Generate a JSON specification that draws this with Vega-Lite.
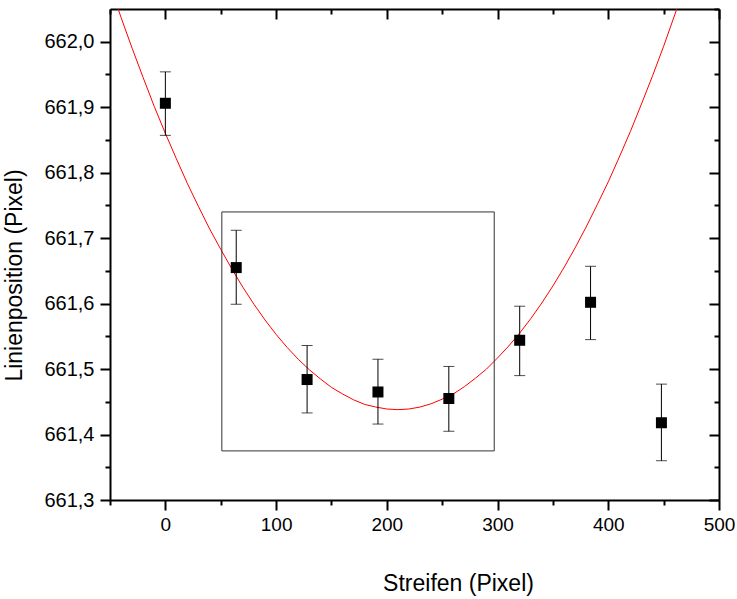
{
  "$schema": "https://vega.github.io/schema/vega-lite/v6.json",
  "width": 609,
  "height": 491,
  "autosize": "none",
  "padding": {"left": 110, "top": 9, "right": 18, "bottom": 99},
  "config": {
    "font": "Liberation Sans",
    "view": {"stroke": null},
    "axis": {"grid": false}
  },
  "datasets": {
    "points": [
      {"x": 0, "y": 661.906, "lo": 661.857, "hi": 661.954},
      {"x": 64, "y": 661.655, "lo": 661.599, "hi": 661.712},
      {"x": 128, "y": 661.484, "lo": 661.433, "hi": 661.536},
      {"x": 192, "y": 661.465, "lo": 661.416, "hi": 661.515},
      {"x": 256, "y": 661.455, "lo": 661.405, "hi": 661.504},
      {"x": 320, "y": 661.544, "lo": 661.490, "hi": 661.596},
      {"x": 384, "y": 661.602, "lo": 661.545, "hi": 661.657},
      {"x": 448, "y": 661.418, "lo": 661.360, "hi": 661.477}
    ],
    "curve": [
      {"x": -50, "y": 662.086}, {"x": -40, "y": 662.037}, {"x": -30, "y": 661.990},
      {"x": -20, "y": 661.945}, {"x": -10, "y": 661.901}, {"x": 0, "y": 661.860},
      {"x": 10, "y": 661.821}, {"x": 20, "y": 661.783}, {"x": 30, "y": 661.748},
      {"x": 40, "y": 661.714}, {"x": 50, "y": 661.683}, {"x": 60, "y": 661.653},
      {"x": 70, "y": 661.625}, {"x": 80, "y": 661.599}, {"x": 90, "y": 661.575},
      {"x": 100, "y": 661.553}, {"x": 110, "y": 661.533}, {"x": 120, "y": 661.515},
      {"x": 130, "y": 661.499}, {"x": 140, "y": 661.485}, {"x": 150, "y": 661.472},
      {"x": 160, "y": 661.462}, {"x": 170, "y": 661.453}, {"x": 180, "y": 661.446},
      {"x": 190, "y": 661.442}, {"x": 200, "y": 661.439}, {"x": 210, "y": 661.438},
      {"x": 220, "y": 661.439}, {"x": 230, "y": 661.442}, {"x": 240, "y": 661.447},
      {"x": 250, "y": 661.454}, {"x": 260, "y": 661.462}, {"x": 270, "y": 661.473},
      {"x": 280, "y": 661.486}, {"x": 290, "y": 661.500}, {"x": 300, "y": 661.517},
      {"x": 310, "y": 661.535}, {"x": 320, "y": 661.555}, {"x": 330, "y": 661.577},
      {"x": 340, "y": 661.601}, {"x": 350, "y": 661.627}, {"x": 360, "y": 661.655},
      {"x": 370, "y": 661.685}, {"x": 380, "y": 661.717}, {"x": 390, "y": 661.751},
      {"x": 400, "y": 661.786}, {"x": 410, "y": 661.824}, {"x": 420, "y": 661.863},
      {"x": 430, "y": 661.905}, {"x": 440, "y": 661.948}, {"x": 450, "y": 661.993},
      {"x": 460, "y": 662.041}, {"x": 470, "y": 662.090}
    ],
    "box": [{"x": 51, "x2": 297, "y": 661.375, "y2": 661.74}]
  },
  "resolve": {"axis": {"x": "independent", "y": "independent"}},
  "layer": [
    {
      "data": {"name": "curve"},
      "mark": {"type": "line", "color": "#ff0000", "strokeWidth": 1, "clip": true},
      "encoding": {
        "x": {
          "field": "x", "type": "quantitative",
          "scale": {"domain": [-50, 500], "nice": false, "zero": false},
          "axis": {
            "orient": "bottom",
            "title": "Streifen (Pixel)",
            "titleFontSize": 23, "titleFontWeight": "normal", "titleColor": "#000",
            "titleX": 348, "titleY": 90, "titleBaseline": "alphabetic", "titleAlign": "center",
            "values": [-50, 0, 50, 100, 150, 200, 250, 300, 350, 400, 450, 500],
            "labelExpr": "datum.value % 100 == 0 ? format(datum.value, 'd') : ''",
            "labelFontSize": 19, "labelColor": "#000", "labelPadding": 5,
            "labelOverlap": false, "labelFlush": false,
            "domainColor": "#000", "domainWidth": 2,
            "tickColor": "#000", "tickWidth": 2,
            "tickSize": {"condition": {"test": "datum.value % 100 == 0", "value": 10}, "value": 5}
          }
        },
        "y": {
          "field": "y", "type": "quantitative",
          "scale": {"domain": [661.3, 662.05], "nice": false, "zero": false},
          "axis": {
            "orient": "left",
            "title": "Linienposition (Pixel)",
            "titleFontSize": 23, "titleFontWeight": "normal", "titleColor": "#000",
            "titleX": -89, "titleY": 266, "titleAngle": -90, "titleBaseline": "alphabetic", "titleAlign": "center",
            "values": [661.3, 661.35, 661.4, 661.45, 661.5, 661.55, 661.6, 661.65, 661.7, 661.75, 661.8, 661.85, 661.9, 661.95, 662.0],
            "labelExpr": "round(datum.value * 100) % 10 == 0 ? replace(format(datum.value, '.1f'), '.', ',') : ''",
            "labelFontSize": 20, "labelColor": "#000", "labelPadding": 6,
            "labelOverlap": false, "labelFlush": false,
            "domainColor": "#000", "domainWidth": 2,
            "tickColor": "#000", "tickWidth": 2,
            "tickSize": {"condition": {"test": "round(datum.value * 100) % 10 == 0", "value": 10}, "value": 5}
          }
        }
      }
    },
    {
      "data": {"name": "box"},
      "mark": {"type": "rect", "fill": null, "fillOpacity": 0, "stroke": "#333333", "strokeWidth": 1},
      "encoding": {
        "x": {"field": "x", "type": "quantitative", "axis": null},
        "x2": {"field": "x2"},
        "y": {"field": "y", "type": "quantitative", "axis": null},
        "y2": {"field": "y2"}
      }
    },
    {
      "data": {"name": "points"},
      "mark": {"type": "rule", "color": "#000", "strokeWidth": 1},
      "encoding": {
        "x": {"field": "x", "type": "quantitative", "axis": null},
        "y": {"field": "lo", "type": "quantitative", "axis": null},
        "y2": {"field": "hi"}
      }
    },
    {
      "data": {"name": "points"},
      "mark": {"type": "tick", "color": "#000", "orient": "horizontal", "size": 11, "thickness": 1},
      "encoding": {
        "x": {"field": "x", "type": "quantitative", "axis": null},
        "y": {"field": "lo", "type": "quantitative", "axis": null}
      }
    },
    {
      "data": {"name": "points"},
      "mark": {"type": "tick", "color": "#000", "orient": "horizontal", "size": 11, "thickness": 1},
      "encoding": {
        "x": {"field": "x", "type": "quantitative", "axis": null},
        "y": {"field": "hi", "type": "quantitative", "axis": null}
      }
    },
    {
      "data": {"name": "points"},
      "mark": {"type": "point", "shape": "square", "filled": true, "color": "#000", "opacity": 1, "size": 121},
      "encoding": {
        "x": {"field": "x", "type": "quantitative", "axis": null},
        "y": {"field": "y", "type": "quantitative", "axis": null}
      }
    },
    {
      "data": {"name": "points"},
      "mark": {"type": "point", "opacity": 0},
      "encoding": {
        "x": {
          "field": "x", "type": "quantitative",
          "axis": {
            "orient": "top", "title": null, "labels": false,
            "values": [-50, 0, 50, 100, 150, 200, 250, 300, 350, 400, 450, 500],
            "domainColor": "#000", "domainWidth": 2,
            "tickColor": "#000", "tickWidth": 2,
            "tickSize": {"condition": {"test": "datum.value % 100 == 0", "value": -10}, "value": -5}
          }
        },
        "y": {
          "field": "y", "type": "quantitative",
          "axis": {
            "orient": "right", "title": null, "labels": false,
            "values": [661.3, 661.35, 661.4, 661.45, 661.5, 661.55, 661.6, 661.65, 661.7, 661.75, 661.8, 661.85, 661.9, 661.95, 662.0, 662.05],
            "domainColor": "#000", "domainWidth": 2,
            "tickColor": "#000", "tickWidth": 2,
            "tickSize": {"condition": {"test": "round(datum.value * 100) % 10 == 0", "value": -10}, "value": -5}
          }
        }
      }
    }
  ]
}
